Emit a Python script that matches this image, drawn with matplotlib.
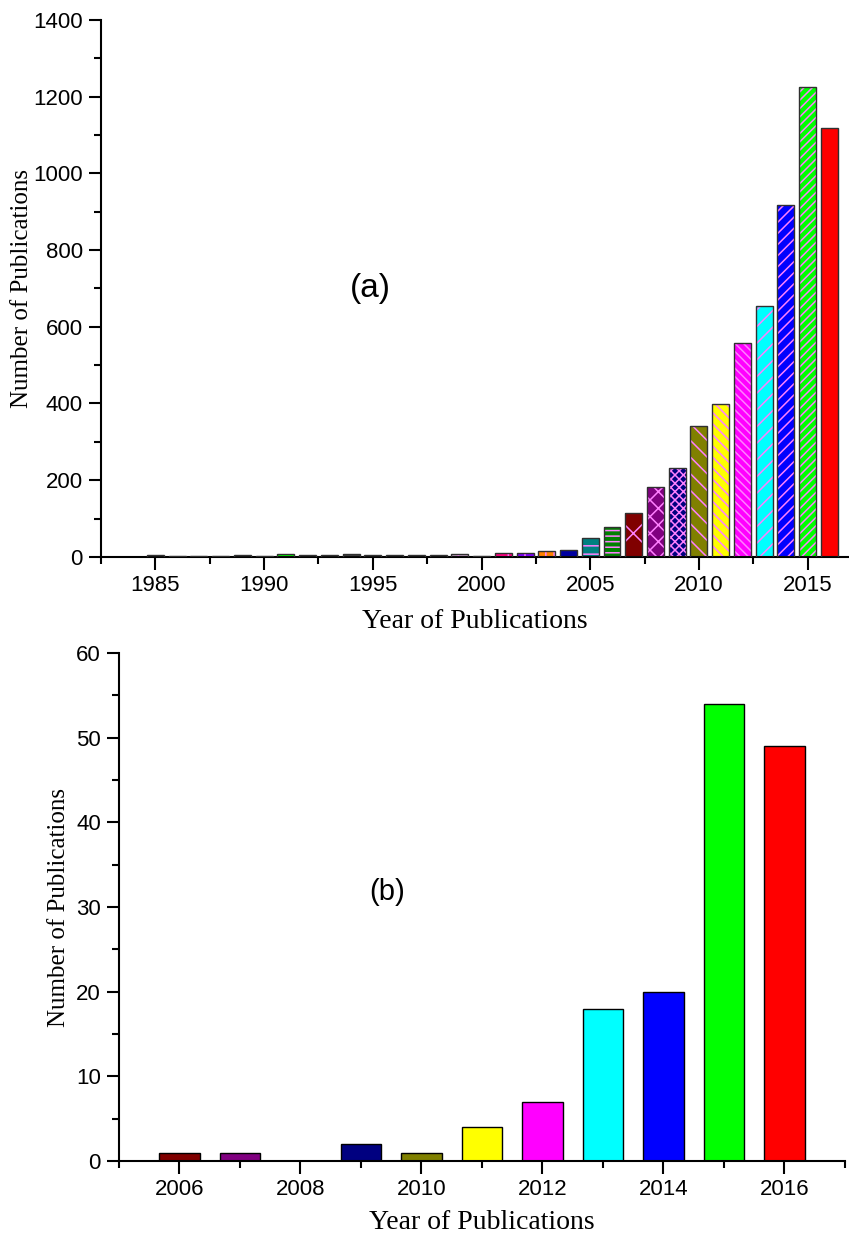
import matplotlib
matplotlib.use('Agg')
import matplotlib.pyplot as plt
from matplotlib.ticker import MultipleLocator

# (a) publications per year, 1985-2016
years_a = list(range(1985, 2017))
counts_a = [4, 2, 2, 3, 6, 3, 9, 5, 6, 8, 4, 6, 6, 6, 7, 2,
            10, 11, 16, 17, 50, 78, 115, 182, 232, 342, 399, 558, 654, 918, 1226, 1118]
colors_a = ['#800080', '#808040', '#a0a000', '#c040c0', '#00ffff', '#000080', '#00ff00', '#ff0000',
            '#202020', '#404040', '#ffc0ff', '#40ffff', '#ffff40', '#c080c0', '#c0a0c0', '#e0e0e0',
            '#ff0080', '#8000ff', '#ff8000', '#0000a0', '#008080', '#008000', '#800000', '#800080',
            '#000080', '#808000', '#ffff00', '#ff00ff', '#00ffff', '#0000ff', '#00ff00', '#ff0000']
hatches_a = ['', '', '', '', '|', '', '', '', '.', '', '', '|', '|', '|', '|', '',
             '|', '|', '||', '', '--', '---', 'x', 'xx', 'xxxx', '\\\\', '\\\\\\', '\\\\\\\\',
             '//', '///', '////', '']

# (b) publications per year, 2006-2016
years_b = list(range(2006, 2017))
counts_b = [1, 1, 0, 2, 1, 4, 7, 18, 20, 54, 49]
colors_b = ['#800000', '#800080', '#c0c0c0', '#000080', '#808000', '#ffff00',
            '#ff00ff', '#00ffff', '#0000ff', '#00ff00', '#ff0000']

hatch_color = '#ff80ff'
tick_font = 'Liberation Sans'
label_font = 'Liberation Serif'

plt.rcParams['hatch.linewidth'] = 1.1

fig = plt.figure(figsize=(8.49, 12.35), dpi=100)


def style_axes(ax):
    for s in ['top', 'right']:
        ax.spines[s].set_visible(False)
    for s in ['left', 'bottom']:
        ax.spines[s].set_linewidth(1.5)
    ax.tick_params(which='major', direction='out', length=9, width=1.5, labelsize=16, pad=4)
    ax.tick_params(which='minor', direction='out', length=5, width=1.5)
    for lab in ax.get_xticklabels() + ax.get_yticklabels():
        lab.set_fontfamily(tick_font)


# ---- (a)
ax1 = fig.add_axes([0.119, 0.549, 0.881, 0.435])
ax1.bar(years_a, counts_a, width=0.78, color=colors_a, hatch=hatches_a,
        edgecolor=hatch_color, linewidth=0, zorder=2)
ax1.bar(years_a, counts_a, width=0.78, fill=False, edgecolor='#303030', linewidth=1.0, zorder=3)
ax1.set_xlim(1982.5, 2016.9)
ax1.set_ylim(0, 1400)
ax1.xaxis.set_major_locator(MultipleLocator(5))
ax1.xaxis.set_minor_locator(MultipleLocator(2.5))
ax1.yaxis.set_major_locator(MultipleLocator(200))
ax1.yaxis.set_minor_locator(MultipleLocator(100))
style_axes(ax1)
ax1.set_xlabel('Year of Publications', fontfamily=label_font, fontsize=20, labelpad=9)
ax1.set_ylabel('Number of Publications', fontfamily=label_font, fontsize=18, labelpad=0)
ax1.text(0.36, 0.5, '(a)', transform=ax1.transAxes, fontfamily=tick_font, fontsize=24,
         ha='center', va='center')

# ---- (b)
ax2 = fig.add_axes([0.140, 0.0599, 0.855, 0.4113])
ax2.bar(years_b, counts_b, width=0.67, color=colors_b, edgecolor='black', linewidth=1.0, zorder=2)
ax2.set_xlim(2005, 2017)
ax2.set_ylim(0, 60)
ax2.xaxis.set_major_locator(MultipleLocator(2))
ax2.xaxis.set_minor_locator(MultipleLocator(1))
ax2.yaxis.set_major_locator(MultipleLocator(10))
ax2.yaxis.set_minor_locator(MultipleLocator(5))
style_axes(ax2)
ax2.set_xlabel('Year of Publications', fontfamily=label_font, fontsize=20, labelpad=7)
ax2.set_ylabel('Number of Publications', fontfamily=label_font, fontsize=18, labelpad=4)
ax2.text(0.37, 0.53, '(b)', transform=ax2.transAxes, fontfamily=tick_font, fontsize=21,
         ha='center', va='center')

fig.savefig('out.png', dpi=100)
